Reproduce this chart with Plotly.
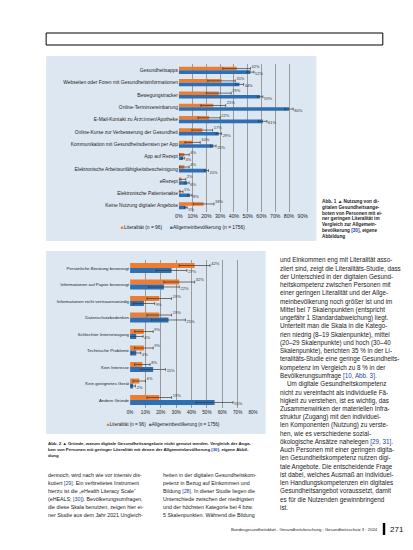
import plotly.graph_objects as go

W, H = 413, 550
FONT = "Liberation Sans"
ORANGE = "#ED7D31"
BLUE = "#2E6FB4"
PANEL = "#dde7f2"
REFBLUE = "#2b3f9e"

# ---------------- data: Abb. 1 ----------------
cats1 = [
    "Gesundheitsapps",
    "Webseiten oder Foren mit Gesundheitsinformationen",
    "Bewegungstracker",
    "Online-Terminvereinbarung",
    "E-Mail-Kontakt zu Ärzt:innen/Apotheke",
    "Online-Kurse zur Verbesserung der Gesundheit",
    "Kommunikation mit Gesundheitsdiensten per App",
    "App auf Rezept",
    "Elektronische Arbeitsunfähigkeitsbescheinigung",
    "eRezept",
    "Elektronische Patientenakte",
    "Keine Nutzung digitaler Angebote",
]
lit1 = [42, 31, 29, 25, 22, 17, 10, 4, 4, 2, 1, 18]
lit1_err = [10, 10, 9, 9, 8, 7.5, 5.5, 3.5, 3.5, 3, 2, 7.5]
allg1 = [52, 44, 59, 80, 61, 29, 25, 3, 20, 6, 8, 5]
allg1_err = [2.5, 3, 2, 3, 3, 2, 2, 1, 1.5, 1.5, 1.5, 1]
ticks1 = [0, 10, 20, 30, 40, 50, 60, 70, 80, 90]
ticklabels1 = ["0%", "10%", "20%", "30%", "40%", "50%", "60%", "70%", "80%", "90%"]

# ---------------- data: Abb. 2 ----------------
cats2 = [
    "Persönliche Beratung bevorzugt",
    "Informationen auf Papier bevorzugt",
    "Informationen nicht vertrauenswürdig",
    "Datenschutzbedenken",
    "Schlechter Internetzugang",
    "Technische Probleme",
    "Kein Interesse",
    "Kein geeignetes Gerät",
    "Andere Gründe",
]
lit2 = [42, 32, 19, 19, 9, 9, 8, 6, 19]
lit2_err = [10, 10, 8, 8, 6, 6, 5, 4, 8]
allg2 = [27, 22, 9, 25, 4, 4, 15, 2, 55]
allg2_err = [10, 10, 7, 11, 4.5, 3, 8, 1.5, 12]
ticks2 = [0, 10, 20, 30, 40, 50, 60, 70, 80]
ticklabels2 = ["0%", "10%", "20%", "30%", "40%", "50%", "60%", "70%", "80%"]

series_names = ["Literalität (n = 96)", "Allgemeinbevölkerung (n = 1756)"]


def px(x):
    return x / W


def py(y):
    return 1 - y / H


fig = go.Figure()


def add_chart(cats, a, a_err, b, b_err, xa, ya, off, bw, lblsize):
    n = len(cats)
    ya_pos = [i - off for i in range(n)]
    yb_pos = [i + off for i in range(n)]
    fig.add_trace(go.Bar(
        orientation="h", x=a, y=ya_pos, width=bw, marker_color=ORANGE,
        marker_line_width=0, name=series_names[0], showlegend=False,
        error_x=dict(type="data", array=a_err, color="#3a3a3a", thickness=0.7, width=1.4),
        xaxis=xa, yaxis=ya, hoverinfo="skip"))
    fig.add_trace(go.Bar(
        orientation="h", x=b, y=yb_pos, width=bw, marker_color=BLUE,
        marker_line_width=0, name=series_names[1], showlegend=False,
        error_x=dict(type="data", array=b_err, color="#3a3a3a", thickness=0.7, width=1.4),
        xaxis=xa, yaxis=ya, hoverinfo="skip"))
    fig.add_trace(go.Scatter(
        x=[v + e + 0.8 for v, e in zip(a, a_err)], y=ya_pos, mode="text",
        text=[f"{v}%" for v in a], textposition="top right",
        textfont=dict(size=lblsize, color="#333333", family=FONT),
        showlegend=False, cliponaxis=False, xaxis=xa, yaxis=ya, hoverinfo="skip"))
    fig.add_trace(go.Scatter(
        x=[v + e + 0.8 for v, e in zip(b, b_err)], y=yb_pos, mode="text",
        text=[f"{v}%" for v in b], textposition="bottom right",
        textfont=dict(size=lblsize, color="#333333", family=FONT),
        showlegend=False, cliponaxis=False, xaxis=xa, yaxis=ya, hoverinfo="skip"))


add_chart(cats1, lit1, lit1_err, allg1, allg1_err, "x", "y", 0.145, 0.29, 4.0)
add_chart(cats2, lit2, lit2_err, allg2, allg2_err, "x2", "y2", 0.15, 0.30, 4.0)

# chart geometry in pixels
c1_x0, c1_x1 = 171, 298
c1_top, c1_step = 62.3, 12.27
c2_x0, c2_x1 = 121, 247
c2_top, c2_step = 260.0, 16.5
n1, n2 = len(cats1), len(cats2)

axis_common = dict(showline=False, zeroline=False, ticks="", fixedrange=True)

fig.update_layout(
    width=W, height=H, margin=dict(l=0, r=0, t=0, b=0),
    paper_bgcolor="white", plot_bgcolor="rgba(0,0,0,0)",
    barmode="overlay", showlegend=False,
    font=dict(family=FONT, color="#222222"),
    xaxis=dict(domain=[px(c1_x0), px(c1_x1)], range=[0, 90], anchor="y",
               tickvals=ticks1, ticktext=ticklabels1, showgrid=True,
               gridcolor="#9a9a9a", gridwidth=0.6,
               tickfont=dict(size=5.2, color="#222222"), **axis_common),
    yaxis=dict(domain=[py(c1_top + (n1 - 0.5) * c1_step + 0.5), py(c1_top - 0.5 * c1_step)],
               range=[n1 - 0.5, -0.5], anchor="x", tickvals=list(range(n1)),
               ticktext=cats1, showgrid=False,
               tickfont=dict(size=4.9, color="#222222"), **axis_common),
    xaxis2=dict(domain=[px(c2_x0), px(c2_x1)], range=[0, 80], anchor="y2",
                tickvals=ticks2, ticktext=ticklabels2, showgrid=True,
                gridcolor="#9a9a9a", gridwidth=0.6,
                tickfont=dict(size=4.6, color="#222222"), **axis_common),
    yaxis2=dict(domain=[py(c2_top + (n2 - 0.5) * c2_step), py(c2_top - 0.5 * c2_step)],
                range=[n2 - 0.5, -0.5], anchor="x2", tickvals=list(range(n2)),
                ticktext=cats2, showgrid=False,
                tickfont=dict(size=4.4, color="#222222"), **axis_common),
)

shapes = []
# header box
shapes.append(dict(type="rect", xref="paper", yref="paper", x0=px(35), x1=px(380),
                   y0=py(37), y1=py(25), line=dict(color="black", width=1), fillcolor="white",
                   layer="below"))
# chart panels
shapes.append(dict(type="rect", xref="paper", yref="paper", x0=px(35), x1=px(312),
                   y0=py(233), y1=py(48), line=dict(width=0), fillcolor=PANEL, layer="below"))
shapes.append(dict(type="rect", xref="paper", yref="paper", x0=px(35), x1=px(260),
                   y0=py(426), y1=py(243), line=dict(width=0), fillcolor=PANEL, layer="below"))
# footer bar
shapes.append(dict(type="rect", xref="paper", yref="paper", x0=px(380), x1=px(382.5),
                   y0=py(527), y1=py(515), line=dict(width=0), fillcolor="black"))
fig.update_layout(shapes=shapes)

ann = []


def txt(x, y, s, size, anchor="left", color="#1a1a1a"):
    ann.append(dict(x=px(x), y=py(y), xref="paper", yref="paper", text=s, showarrow=False,
                    xanchor=anchor, yanchor="middle", align=anchor,
                    font=dict(size=size, color=color, family=FONT)))


def ref(s):
    return f"<span style='color:{REFBLUE}'>{s}</span>"


# legends (drawn as text with coloured squares)
txt(110, 219.5, f"<span style='color:{ORANGE}'>■</span>{series_names[0]}", 4.9)
txt(160, 219.5, f"<span style='color:{BLUE}'>■</span>{series_names[1]}", 4.9)
txt(95, 416, f"<span style='color:{ORANGE}'>■</span>{series_names[0]}", 4.6)
txt(138, 416, f"<span style='color:{BLUE}'>■</span>{series_names[1]}", 4.6)

# caption Abb. 1
cap1 = [
    "<b>Abb. 1</b> ▲ Nutzung von di-",
    "gitalen Gesundheitsange-",
    "boten von Personen mit ei-",
    "ner geringen Literalität im",
    "Vergleich zur Allgemein-",
    "bevölkerung " + ref("[30]") + ", eigene",
    "Abbildung",
]
for i, line in enumerate(cap1):
    txt(316, 193.3 + i * 5.85, "<b>" + line + "</b>", 4.7)

# caption Abb. 2
cap2 = [
    "<b>Abb. 2</b> ▲ Gründe, warum digitale Gesundheitsangebote nicht genutzt werden. Vergleich der Anga-",
    "ben von Personen mit geringer Literalität mit denen der Allgemeinbevölkerung " + ref("[30]") + ", eigene Abbil-",
    "dung",
]
for i, line in enumerate(cap2):
    txt(35, 435 + i * 6.3, "<b>" + line + "</b>", 4.35)

# right column body text
right_col = [
    "und Einkommen eng mit Literalität asso-",
    "ziiert sind, zeigt die Literalitäts-Studie, dass",
    "der Unterschied in der digitalen Gesund-",
    "heitskompetenz zwischen Personen mit",
    "einer geringen Literalität und der Allge-",
    "meinbevölkerung noch größer ist und im",
    "Mittel bei 7 Skalenpunkten (entspricht",
    "ungefähr 1 Standardabweichung) liegt.",
    "Unterteilt man die Skala in die Katego-",
    "rien niedrig (8–19 Skalenpunkte), mittel",
    "(20–29 Skalenpunkte) und hoch (30–40",
    "Skalenpunkte), berichten 35 % in der Li-",
    "teralitäts-Studie eine geringe Gesundheits-",
    "kompetenz im Vergleich zu 8 % in der",
    "Bevölkerungsumfrage " + ref("[10, Abb. 3]") + ".",
    "    Um digitale Gesundheitskompetenz",
    "nicht zu vereinfacht als individuelle Fä-",
    "higkeit zu verstehen, ist es wichtig, das",
    "Zusammenwirken der materiellen Infra-",
    "struktur (Zugang) mit den individuel-",
    "len Komponenten (Nutzung) zu verste-",
    "hen, wie es verschiedene sozial-",
    "ökologische Ansätze nahelegen " + ref("[29, 31]") + ".",
    "Auch Personen mit einer geringen digita-",
    "len Gesundheitskompetenz nutzen digi-",
    "tale Angebote. Die entscheidende Frage",
    "ist dabei, welches Ausmaß an individuel-",
    "len Handlungskompetenzen ein digitales",
    "Gesundheitsangebot voraussetzt, damit",
    "es für die Nutzenden gewinnbringend",
    "ist.",
]
for i, line in enumerate(right_col):
    txt(273, 252.3 + i * 8.25, line, 6.3)

# bottom-left body text, two columns
left_a = [
    "dennoch, wird nach wie vor intensiv dis-",
    "kutiert " + ref("[29]") + ". Ein verbreitetes Instrument",
    "hierzu ist die „eHealth Literacy Scale“",
    "(eHEALS; " + ref("[30]") + "). Bevölkerungsumfragen,",
    "die diese Skala benutzen, zeigen hier ei-",
    "ner Studie aus dem Jahr 2021 Ungleich-",
]
left_b = [
    "heiten in der digitalen Gesundheitskom-",
    "petenz in Bezug auf Einkommen und",
    "Bildung " + ref("[28]") + ". In dieser Studie liegen die",
    "Unterschiede zwischen der niedrigsten",
    "und der höchsten Kategorie bei 4 bzw.",
    "5 Skalenpunkten. Während die Bildung",
]
for i, line in enumerate(left_a):
    txt(35, 466.7 + i * 8.0, line, 5.3)
for i, line in enumerate(left_b):
    txt(153, 466.7 + i * 8.0, line, 5.3)

# footer
txt(377, 521, "Bundesgesundheitsblatt - Gesundheitsforschung - Gesundheitsschutz 3 · 2024", 4.2,
    anchor="right")
txt(385, 521, "271", 8, color="#111111")

fig.update_layout(annotations=ann)
fig.write_html("out.html")
